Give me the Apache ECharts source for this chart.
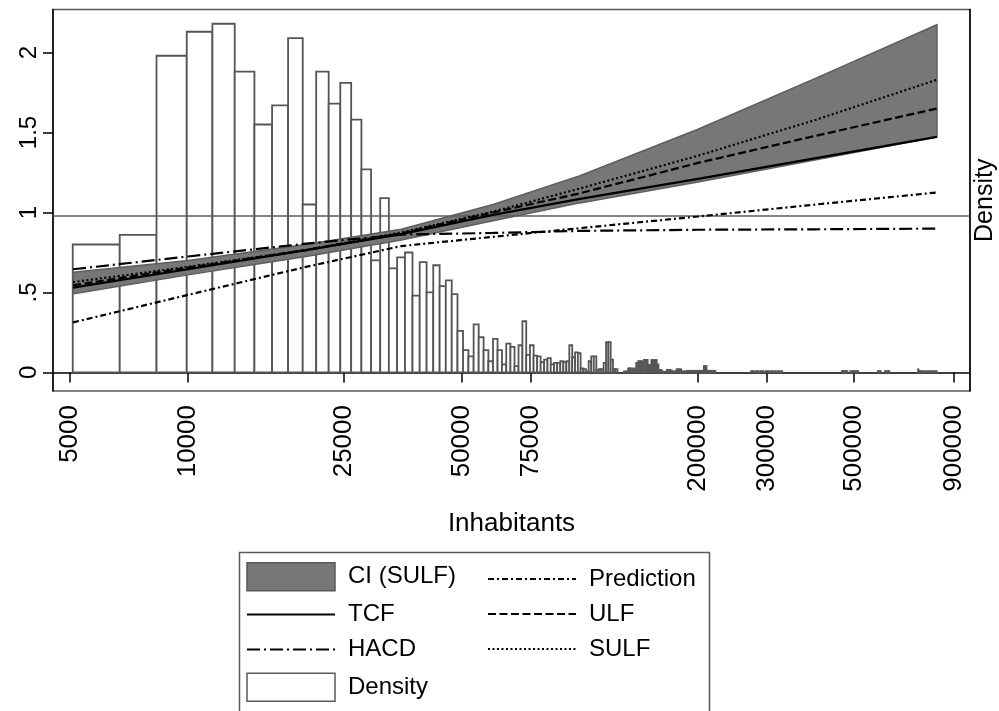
<!DOCTYPE html>
<html>
<head>
<meta charset="utf-8">
<title>Density by inhabitants</title>
<script src="https://cdn.jsdelivr.net/npm/echarts@6/dist/echarts.min.js"></script>
<style>
  html, body { margin: 0; padding: 0; background: #fff; }
  #chart { width: 999px; height: 711px; }
</style>
</head>
<body>
<div id="chart"></div>
<script>
// histogram: equal-width bins in inhabitants, drawn on a log axis
var binStart = 5080;
var binWidth = 1615;
var densityHeights = [
  0.80, 0.86, 1.98, 2.13, 2.18, 1.88, 1.55, 1.67, 2.09, 1.05,
  1.88, 1.68, 1.81, 1.58, 1.27, 0.70, 1.09, 0.65, 0.72, 0.75,
  0.48, 0.69, 0.50, 0.67, 0.54, 0.575, 0.49, 0.26, 0.14, 0.10,
  0.30, 0.22, 0.14, 0.07, 0.21, 0.14, 0.05, 0.18, 0.16, 0.04,
  0.17, 0.32, 0.11, 0.17, 0.105, 0.10, 0.065, 0.08, 0.09, 0.05,
  0.06, 0.06, 0.07, 0.065, 0.07, 0.17, 0.095, 0.125, 0.12, 0.025,
  0.02, 0.005, 0.07, 0.10, 0.10, 0.015, 0.02, 0.02, 0.06, 0.19,
  0.19, 0.08, 0.02, 0.02, 0, 0, 0, 0.006, 0.006, 0.025,
  0.025, 0.02, 0.025, 0.06, 0.07, 0.07, 0.065, 0.078, 0.078, 0.045,
  0.045, 0.078, 0.075, 0.078, 0.05, 0.015, 0.015, 0.004, 0.004, 0.004,
  0.016, 0.016, 0.012, 0.006, 0.006, 0.006, 0.02, 0.018, 0.02, 0.006,
  0.006, 0.006, 0.006, 0.01, 0.01, 0.01, 0.01, 0.01, 0.01, 0.01,
  0.01, 0.01, 0.01, 0.01, 0.01, 0.04, 0.04, 0.01, 0.01, 0.01,
  0.01, 0.01, 0.01, 0.01
];
var tailBins = [166, 168, 171, 173, 176, 178, 181, 183, 186, 188, 191, 194, 196, 199,
                285, 287, 288, 290, 292, 294, 300, 303, 305, 308, 311, 313,
                353, 356, 358, 368, 371, 374, 377,
                448, 450, 452, 455, 460, 465, 470, 475, 480, 485, 490, 495, 499];
var tailHeights = [0.008, 0.008, 0.008, 0.008, 0.008, 0.008, 0.008, 0.008, 0.008, 0.008, 0.008, 0.008, 0.008, 0.008,
                   0.008, 0.008, 0.008, 0.008, 0.008, 0.008, 0.008, 0.008, 0.008, 0.008, 0.008, 0.008,
                   0.008, 0.008, 0.008, 0.008, 0.008, 0.008, 0.008,
                   0.02, 0.008, 0.008, 0.008, 0.008, 0.008, 0.008, 0.008, 0.008, 0.008, 0.008, 0.008, 0.008];

// fitted curves, sampled at these inhabitants
var fitX = [5090, 10000, 20000, 35000, 60000, 100000, 200000, 400000, 814000];
var tcf = [0.53, 0.645, 0.765, 0.865, 0.985, 1.085, 1.21, 1.34, 1.473];
var ulf = [0.545, 0.655, 0.765, 0.87, 1.00, 1.12, 1.31, 1.48, 1.65];
var sulf = [0.565, 0.66, 0.765, 0.875, 1.005, 1.15, 1.355, 1.58, 1.83];
var hacd = [0.645, 0.725, 0.805, 0.862, 0.872, 0.885, 0.892, 0.895, 0.899];
var prediction = [0.313, 0.485, 0.66, 0.79, 0.848, 0.902, 0.975, 1.05, 1.125];
var ciLow = [0.491, 0.61, 0.725, 0.828, 0.948, 1.06, 1.19, 1.33, 1.473];
var ciHigh = [0.627, 0.70, 0.80, 0.895, 1.05, 1.23, 1.52, 1.84, 2.174];
var refLine = 0.985;

var xTicks = [5000, 10000, 25000, 50000, 75000, 200000, 300000, 500000, 900000];
var yTicks = [0, 0.5, 1, 1.5, 2];

var FONT = 'Liberation Sans';

var histData = [];
densityHeights.forEach(function (h, k) {
  if (h > 0) histData.push([binStart + k * binWidth, binStart + (k + 1) * binWidth, h]);
});
tailBins.forEach(function (k, i) {
  histData.push([binStart + k * binWidth, binStart + (k + 1) * binWidth, tailHeights[i]]);
});

function pairs(ys) {
  return fitX.map(function (x, i) { return [x, ys[i]]; });
}

function renderBar(params, api) {
  var top = api.coord([api.value(0), api.value(2)]);
  var bot = api.coord([api.value(1), 0]);
  return {
    type: 'rect',
    shape: { x: top[0], y: top[1], width: bot[0] - top[0], height: bot[1] - top[1] },
    style: { fill: '#fff', stroke: '#555', lineWidth: 1.8 }
  };
}

function renderBand(params, api) {
  if (params.dataIndex !== 0) return null;
  var pts = [];
  for (var i = 0; i < fitX.length; i++) pts.push(api.coord([fitX[i], ciHigh[i]]));
  for (var j = fitX.length - 1; j >= 0; j--) pts.push(api.coord([fitX[j], ciLow[j]]));
  return {
    type: 'polygon',
    shape: { points: pts },
    style: { fill: '#777', stroke: '#5e5e5e', lineWidth: 1.5 }
  };
}

function fitLine(name, ys, dash) {
  return {
    name: name, type: 'line', data: pairs(ys), symbol: 'none', z: 5,
    lineStyle: { color: '#000', width: 2.2, type: dash },
    itemStyle: { color: '#000' }
  };
}

var legendText = { fontSize: 24, fontFamily: FONT, color: '#000', padding: [0, 0, 0, 8] };
var hideMarker = { opacity: 0 };

var option = {
  animation: false,
  backgroundColor: '#fff',
  grid: { left: 53, right: 29, top: 9.5, bottom: 320, show: true, borderColor: '#5a5a5a', borderWidth: 1.5, outerBoundsMode: 'none' },
  xAxis: {
    type: 'log', logBase: 10, min: 4524, max: 988300,
    name: 'Inhabitants', nameLocation: 'middle', nameGap: 120,
    nameTextStyle: { fontSize: 26, fontFamily: FONT, color: '#000' },
    axisLine: { lineStyle: { color: '#000', width: 1.5 } },
    axisTick: { customValues: xTicks, length: 10, lineStyle: { color: '#000', width: 1.5 } },
    axisLabel: {
      customValues: xTicks, rotate: 90, margin: 14, fontSize: 26, fontFamily: FONT, color: '#000',
      formatter: function (v) { return String(Math.round(v)); }
    },
    minorTick: { show: false },
    splitLine: { show: false }
  },
  yAxis: [{
    type: 'value', min: -0.116, max: 2.269,
    axisLine: { show: true, lineStyle: { color: '#000', width: 1.5 } },
    axisTick: { show: true, customValues: yTicks, length: 10, lineStyle: { color: '#000', width: 1.5 } },
    axisLabel: {
      customValues: yTicks, rotate: 90, margin: 12, fontSize: 24, fontFamily: FONT, color: '#000',
      formatter: function (v) { return v === 0 ? '0' : String(v).replace(/^0\./, '.'); }
    },
    splitLine: { show: false }
  }, {
    type: 'value', position: 'right', min: -0.116, max: 2.269,
    name: 'Density', nameLocation: 'middle', nameGap: 3,
    nameTextStyle: { fontSize: 25, fontFamily: FONT, color: '#000' },
    axisLine: { show: true, lineStyle: { color: '#000', width: 1.5 } },
    axisTick: { show: false }, axisLabel: { show: false }, splitLine: { show: false }
  }],
  legend: [{
    orient: 'vertical', left: 246, top: 562, padding: 0,
    itemWidth: 88, itemHeight: 28, itemGap: 11,
    textStyle: legendText, selectedMode: false,
    data: [
      { name: 'CI (SULF)', icon: 'rect', itemStyle: { color: '#777', borderColor: '#5a5a5a', borderWidth: 1.5 } },
      { name: 'TCF', itemStyle: hideMarker },
      { name: 'HACD', itemStyle: hideMarker },
      { name: 'Density', icon: 'rect', itemStyle: { color: '#fff', borderColor: '#5a5a5a', borderWidth: 1.5 } }
    ]
  }, {
    orient: 'vertical', left: 487, top: 567, padding: 0,
    itemWidth: 88, itemHeight: 28, itemGap: 11,
    textStyle: legendText, selectedMode: false,
    data: [
      { name: 'Prediction', itemStyle: hideMarker },
      { name: 'ULF', itemStyle: hideMarker },
      { name: 'SULF', itemStyle: hideMarker }
    ]
  }],
  graphic: [{
    type: 'rect', left: 237, top: 550, silent: true,
    shape: { width: 470, height: 175 },
    style: { fill: 'none', stroke: '#5a5a5a', lineWidth: 1.5 }
  }],
  series: [{
    name: 'Density', type: 'custom', renderItem: renderBar, data: histData,
    encode: { x: [0, 1], y: 2 }, z: 1,
    itemStyle: { color: '#fff', borderColor: '#555', borderWidth: 1.5 },
    markLine: {
      silent: true, symbol: 'none', label: { show: false },
      lineStyle: { color: '#5a5a5a', width: 1.5, type: 'solid' },
      data: [{ yAxis: refLine }]
    }
  }, {
    name: 'CI (SULF)', type: 'custom', renderItem: renderBand,
    data: fitX.map(function (x, i) { return [x, ciLow[i], ciHigh[i]]; }),
    encode: { x: 0, y: [1, 2] }, z: 2,
    itemStyle: { color: '#777', borderColor: '#5a5a5a', borderWidth: 1.5 }
  },
    fitLine('TCF', tcf, 'solid'),
    fitLine('HACD', hacd, [13, 4, 2, 4]),
    fitLine('Prediction', prediction, [6, 3, 2, 3]),
    fitLine('ULF', ulf, [8, 3.5]),
    fitLine('SULF', sulf, [2, 2.5])
  ]
};

var chart = echarts.init(document.getElementById('chart'), null, { renderer: 'canvas' });
chart.setOption(option);
</script>
</body>
</html>
